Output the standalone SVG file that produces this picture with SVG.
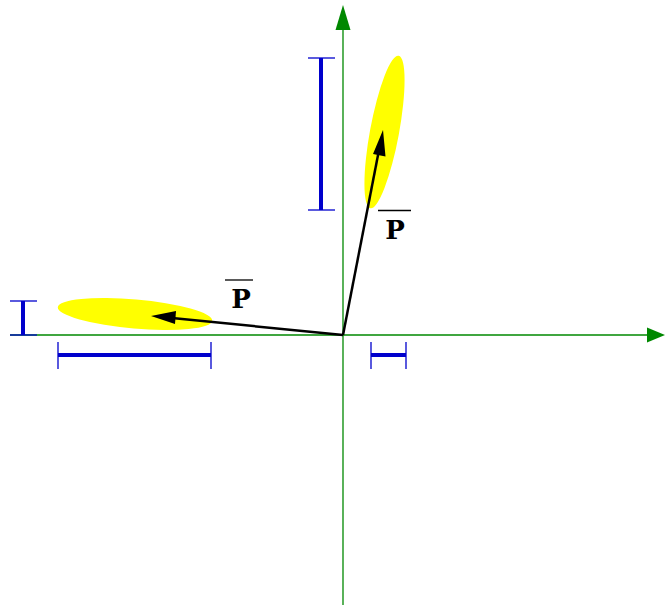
<svg xmlns="http://www.w3.org/2000/svg" width="665" height="605" viewBox="0 0 665 605">
<style>
.axis{stroke:#008800;stroke-width:1.3;fill:none}
.ah{fill:#008800}
.ell{fill:#ffff00}
.vec{stroke:#000;stroke-width:2.5;fill:none}
.head{fill:#000}
.bar{stroke:#0000cc;stroke-width:4;fill:none}
.cap{stroke:#0000cc;stroke-width:1.3;fill:none}
.lbl{font-family:"DejaVu Serif","Liberation Serif",serif;font-weight:bold;font-size:26px;fill:#000;text-anchor:middle}
.ovl{stroke:#000;stroke-width:1.3}
</style>
<g id="ellipses">
<ellipse id="ellipse-v" class="ell" cx="384.5" cy="132" rx="14.5" ry="77.5" transform="rotate(10.5 384.5 132)"/>
<ellipse id="ellipse-h" class="ell" cx="135" cy="314" rx="77.5" ry="14.5" transform="rotate(5 135 314)"/>
</g>
<g id="axes">
<line class="axis" x1="10" y1="335" x2="650" y2="335"/>
<polygon class="ah" points="665,335 647,327.5 647,342.5"/>
<line class="axis" x1="343" y1="605" x2="343" y2="28"/>
<polygon class="ah" points="343,5 335.5,30 350.5,30"/>
</g>
<g id="connectors">
<line class="vec" x1="343" y1="335" x2="379" y2="150"/>
<polygon class="head" points="383,130 373,154 385.5,156.5"/>
<line class="vec" x1="343" y1="335" x2="172" y2="318"/>
<polygon class="head" points="151,316 176,311 175,324"/>
</g>
<g id="errorbars">
<g id="eb-v-large">
<line class="bar" x1="321" y1="58" x2="321" y2="210"/>
<line class="cap" x1="308" y1="58" x2="335" y2="58"/>
<line class="cap" x1="308" y1="210" x2="335" y2="210"/>
</g>
<g id="eb-v-small">
<line class="bar" x1="23" y1="301" x2="23" y2="335"/>
<line class="cap" x1="10" y1="301" x2="37" y2="301"/>
<line class="cap" x1="10" y1="335" x2="37" y2="335"/>
</g>
<g id="eb-h-large">
<line class="bar" x1="58" y1="355" x2="211" y2="355"/>
<line class="cap" x1="58" y1="342" x2="58" y2="369"/>
<line class="cap" x1="211" y1="342" x2="211" y2="369"/>
</g>
<g id="eb-h-small">
<line class="bar" x1="371" y1="355" x2="406" y2="355"/>
<line class="cap" x1="371" y1="342" x2="371" y2="369"/>
<line class="cap" x1="406" y1="342" x2="406" y2="369"/>
</g>
</g>
<g id="label-right">
<line class="ovl" x1="378" y1="210.5" x2="411" y2="210.5"/>
<text class="lbl" x="395" y="239">P</text>
</g>
<g id="label-left">
<line class="ovl" x1="225" y1="280" x2="253" y2="280"/>
<text class="lbl" x="241" y="308">P</text>
</g>
</svg>
